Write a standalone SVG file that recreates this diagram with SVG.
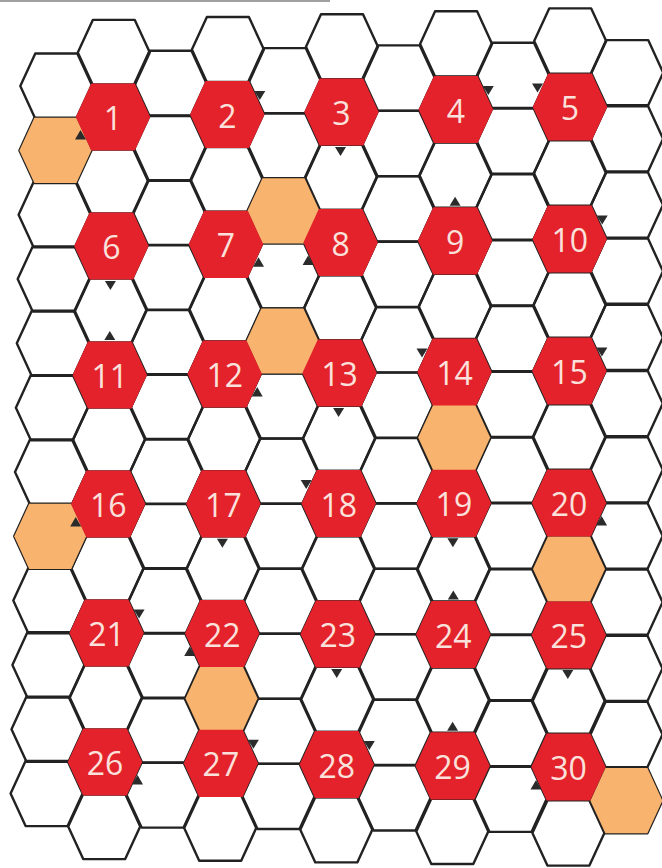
<svg xmlns="http://www.w3.org/2000/svg" width="662" height="868" viewBox="0 0 662 868">
<style>
.cell{fill:none;stroke:#222222;stroke-width:2.4;stroke-linejoin:round}
.org{fill:#f8b36e}
.red{fill:#e3222b}
.lbl{font-family:"Open Sans","Noto Sans",sans-serif;font-size:32px;fill:#fbe1db;text-anchor:middle}
.mk{fill:#2b2b2b}
</style>
<defs>
<polygon id="h" points="-21,-32.6 21,-32.6 36,0 21,32.6 -21,32.6 -36,0"/>
<polygon id="hr" points="-21.8,-33.6 21.8,-33.6 37.2,0 21.8,33.6 -21.8,33.6 -37.2,0"/>
<polygon id="tT" points="-5.5,-35 5.5,-35 0,-44"/>
<polygon id="tB" points="-6.5,35 4.5,35 -1,44"/>
<polygon id="tUR" points="27,-23.5 38,-23.5 32.5,-14.5"/>
<polygon id="tUL" points="-38,-23.5 -27,-23.5 -32.5,-14.5"/>
<polygon id="tLR" points="27,22.5 38,22.5 32.5,13"/>
<polygon id="tLL" points="-38,22.5 -27,22.5 -32.5,13"/>
</defs>
<rect x="0" y="0" width="662" height="868" fill="#ffffff"/>
<rect x="0" y="0" width="330" height="2" fill="#a0a0a0"/>
<g id="grid" class="cell">
<use href="#h" x="56.3" y="86.1"/><use href="#h" x="55.4" y="150.4"/><use href="#h" x="54.6" y="214.7"/><use href="#h" x="53.7" y="279"/><use href="#h" x="52.8" y="343.3"/><use href="#h" x="51.9" y="407.7"/><use href="#h" x="51" y="472"/><use href="#h" x="50.2" y="536.3"/><use href="#h" x="49.3" y="600.6"/><use href="#h" x="48.4" y="664.9"/><use href="#h" x="47.5" y="729.2"/><use href="#h" x="46.6" y="793.5"/>
<use href="#h" x="113.8" y="52.5"/><use href="#h" x="113" y="117"/><use href="#h" x="112.2" y="181.5"/><use href="#h" x="111.4" y="246"/><use href="#h" x="110.6" y="310.5"/><use href="#h" x="109.8" y="375"/><use href="#h" x="109" y="439.5"/><use href="#h" x="108.2" y="504"/><use href="#h" x="107.4" y="568.5"/><use href="#h" x="106.6" y="633"/><use href="#h" x="105.8" y="697.5"/><use href="#h" x="105" y="762"/><use href="#h" x="104.2" y="826.5"/>
<use href="#h" x="170.5" y="83.4"/><use href="#h" x="169.8" y="148.1"/><use href="#h" x="169.1" y="212.8"/><use href="#h" x="168.3" y="277.5"/><use href="#h" x="167.6" y="342.2"/><use href="#h" x="166.9" y="406.9"/><use href="#h" x="166.2" y="471.5"/><use href="#h" x="165.5" y="536.2"/><use href="#h" x="164.7" y="600.9"/><use href="#h" x="164" y="665.6"/><use href="#h" x="163.3" y="730.3"/><use href="#h" x="162.6" y="795"/>
<use href="#h" x="227.9" y="49.6"/><use href="#h" x="227.3" y="114.5"/><use href="#h" x="226.6" y="179.4"/><use href="#h" x="226" y="244.3"/><use href="#h" x="225.3" y="309.1"/><use href="#h" x="224.7" y="374"/><use href="#h" x="224.1" y="438.9"/><use href="#h" x="223.4" y="503.8"/><use href="#h" x="222.8" y="568.6"/><use href="#h" x="222.2" y="633.5"/><use href="#h" x="221.5" y="698.4"/><use href="#h" x="220.9" y="763.3"/><use href="#h" x="220.2" y="828.1"/>
<use href="#h" x="284.7" y="80.7"/><use href="#h" x="284.1" y="145.8"/><use href="#h" x="283.5" y="210.8"/><use href="#h" x="283" y="275.9"/><use href="#h" x="282.4" y="341"/><use href="#h" x="281.9" y="406"/><use href="#h" x="281.3" y="471.1"/><use href="#h" x="280.8" y="536.2"/><use href="#h" x="280.2" y="601.2"/><use href="#h" x="279.7" y="666.3"/><use href="#h" x="279.1" y="731.3"/><use href="#h" x="278.5" y="796.4"/>
<use href="#h" x="342" y="46.8"/><use href="#h" x="341.5" y="112"/><use href="#h" x="341" y="177.3"/><use href="#h" x="340.6" y="242.5"/><use href="#h" x="340.1" y="307.8"/><use href="#h" x="339.6" y="373"/><use href="#h" x="339.1" y="438.3"/><use href="#h" x="338.7" y="503.5"/><use href="#h" x="338.2" y="568.8"/><use href="#h" x="337.7" y="634"/><use href="#h" x="337.2" y="699.3"/><use href="#h" x="336.8" y="764.5"/><use href="#h" x="336.3" y="829.8"/>
<use href="#h" x="398.8" y="78"/><use href="#h" x="398.4" y="143.5"/><use href="#h" x="398" y="208.9"/><use href="#h" x="397.6" y="274.3"/><use href="#h" x="397.3" y="339.8"/><use href="#h" x="396.9" y="405.2"/><use href="#h" x="396.5" y="470.7"/><use href="#h" x="396.1" y="536.1"/><use href="#h" x="395.7" y="601.5"/><use href="#h" x="395.3" y="667"/><use href="#h" x="394.9" y="732.4"/><use href="#h" x="394.5" y="797.9"/>
<use href="#h" x="456.1" y="43.9"/><use href="#h" x="455.8" y="109.5"/><use href="#h" x="455.4" y="175.1"/><use href="#h" x="455.1" y="240.8"/><use href="#h" x="454.8" y="306.4"/><use href="#h" x="454.5" y="372"/><use href="#h" x="454.2" y="437.6"/><use href="#h" x="453.9" y="503.3"/><use href="#h" x="453.6" y="568.9"/><use href="#h" x="453.3" y="634.5"/><use href="#h" x="452.9" y="700.1"/><use href="#h" x="452.6" y="765.8"/><use href="#h" x="452.3" y="831.4"/>
<use href="#h" x="513" y="75.3"/><use href="#h" x="512.8" y="141.2"/><use href="#h" x="512.5" y="207"/><use href="#h" x="512.3" y="272.8"/><use href="#h" x="512.1" y="338.6"/><use href="#h" x="511.8" y="404.4"/><use href="#h" x="511.6" y="470.2"/><use href="#h" x="511.4" y="536"/><use href="#h" x="511.1" y="601.8"/><use href="#h" x="510.9" y="667.7"/><use href="#h" x="510.7" y="733.5"/><use href="#h" x="510.5" y="799.3"/>
<use href="#h" x="570.2" y="41"/><use href="#h" x="570" y="107"/><use href="#h" x="569.9" y="173"/><use href="#h" x="569.7" y="239"/><use href="#h" x="569.6" y="305"/><use href="#h" x="569.4" y="371"/><use href="#h" x="569.3" y="437"/><use href="#h" x="569.1" y="503"/><use href="#h" x="569" y="569"/><use href="#h" x="568.8" y="635"/><use href="#h" x="568.7" y="701"/><use href="#h" x="568.5" y="767"/><use href="#h" x="568.4" y="833"/>
<use href="#h" x="627.2" y="72.7"/><use href="#h" x="627.1" y="138.8"/><use href="#h" x="627" y="205"/><use href="#h" x="627" y="271.2"/><use href="#h" x="626.9" y="337.4"/><use href="#h" x="626.8" y="403.6"/><use href="#h" x="626.8" y="469.8"/><use href="#h" x="626.7" y="536"/><use href="#h" x="626.6" y="602.2"/><use href="#h" x="626.5" y="668.4"/><use href="#h" x="626.5" y="734.5"/><use href="#h" x="626.4" y="800.7"/>
</g>
<g id="orange" class="org">
<use href="#h" x="55.4" y="150.4"/>
<use href="#h" x="283.5" y="210.8"/>
<use href="#h" x="282.4" y="341"/>
<use href="#h" x="454.2" y="437.6"/>
<use href="#h" x="50.2" y="536.3"/>
<use href="#h" x="569" y="569"/>
<use href="#h" x="221.5" y="698.4"/>
<use href="#h" x="626.4" y="800.7"/>
</g>
<g id="nodes">
<g id="n1" transform="translate(113,117)"><use href="#hr" class="red"/><text class="lbl" y="13">1</text><use href="#tLL" class="mk"/></g>
<g id="n2" transform="translate(227.3,114.5)"><use href="#hr" class="red"/><text class="lbl" y="13">2</text><use href="#tUR" class="mk"/></g>
<g id="n3" transform="translate(341.5,112)"><use href="#hr" class="red"/><text class="lbl" y="13">3</text><use href="#tB" class="mk"/></g>
<g id="n4" transform="translate(455.8,109.5)"><use href="#hr" class="red"/><text class="lbl" y="13">4</text><use href="#tUR" class="mk"/></g>
<g id="n5" transform="translate(570,107)"><use href="#hr" class="red"/><text class="lbl" y="13">5</text><use href="#tUL" class="mk"/></g>
<g id="n6" transform="translate(111.4,246)"><use href="#hr" class="red"/><text class="lbl" y="13">6</text><use href="#tB" class="mk"/></g>
<g id="n7" transform="translate(226,244.3)"><use href="#hr" class="red"/><text class="lbl" y="13">7</text><use href="#tLR" class="mk"/></g>
<g id="n8" transform="translate(340.6,242.5)"><use href="#hr" class="red"/><text class="lbl" y="13">8</text><use href="#tLL" class="mk"/></g>
<g id="n9" transform="translate(455.1,240.8)"><use href="#hr" class="red"/><text class="lbl" y="13">9</text><use href="#tT" class="mk"/></g>
<g id="n10" transform="translate(569.7,239)"><use href="#hr" class="red"/><text class="lbl" y="13">10</text><use href="#tUR" class="mk"/></g>
<g id="n11" transform="translate(109.8,375)"><use href="#hr" class="red"/><text class="lbl" y="13">11</text><use href="#tT" class="mk"/></g>
<g id="n12" transform="translate(224.7,374)"><use href="#hr" class="red"/><text class="lbl" y="13">12</text><use href="#tLR" class="mk"/></g>
<g id="n13" transform="translate(339.6,373)"><use href="#hr" class="red"/><text class="lbl" y="13">13</text><use href="#tB" class="mk"/></g>
<g id="n14" transform="translate(454.5,372)"><use href="#hr" class="red"/><text class="lbl" y="13">14</text><use href="#tUL" class="mk"/></g>
<g id="n15" transform="translate(569.4,371)"><use href="#hr" class="red"/><text class="lbl" y="13">15</text><use href="#tUR" class="mk"/></g>
<g id="n16" transform="translate(108.2,504)"><use href="#hr" class="red"/><text class="lbl" y="13">16</text><use href="#tLL" class="mk"/></g>
<g id="n17" transform="translate(223.4,503.8)"><use href="#hr" class="red"/><text class="lbl" y="13">17</text><use href="#tB" class="mk"/></g>
<g id="n18" transform="translate(338.7,503.5)"><use href="#hr" class="red"/><text class="lbl" y="13">18</text><use href="#tUL" class="mk"/></g>
<g id="n19" transform="translate(453.9,503.3)"><use href="#hr" class="red"/><text class="lbl" y="13">19</text><use href="#tB" class="mk"/></g>
<g id="n20" transform="translate(569.1,503)"><use href="#hr" class="red"/><text class="lbl" y="13">20</text><use href="#tLR" class="mk"/></g>
<g id="n21" transform="translate(106.6,633)"><use href="#hr" class="red"/><text class="lbl" y="13">21</text><use href="#tUR" class="mk"/></g>
<g id="n22" transform="translate(222.2,633.5)"><use href="#hr" class="red"/><text class="lbl" y="13">22</text><use href="#tLL" class="mk"/></g>
<g id="n23" transform="translate(337.7,634)"><use href="#hr" class="red"/><text class="lbl" y="13">23</text><use href="#tB" class="mk"/></g>
<g id="n24" transform="translate(453.3,634.5)"><use href="#hr" class="red"/><text class="lbl" y="13">24</text><use href="#tT" class="mk"/></g>
<g id="n25" transform="translate(568.8,635)"><use href="#hr" class="red"/><text class="lbl" y="13">25</text><use href="#tB" class="mk"/></g>
<g id="n26" transform="translate(105,762)"><use href="#hr" class="red"/><text class="lbl" y="13">26</text><use href="#tLR" class="mk"/></g>
<g id="n27" transform="translate(220.9,763.3)"><use href="#hr" class="red"/><text class="lbl" y="13">27</text><use href="#tUR" class="mk"/></g>
<g id="n28" transform="translate(336.8,764.5)"><use href="#hr" class="red"/><text class="lbl" y="13">28</text><use href="#tUR" class="mk"/></g>
<g id="n29" transform="translate(452.6,765.8)"><use href="#hr" class="red"/><text class="lbl" y="13">29</text><use href="#tT" class="mk"/></g>
<g id="n30" transform="translate(568.5,767)"><use href="#hr" class="red"/><text class="lbl" y="13">30</text><use href="#tLL" class="mk"/></g>
</g>
</svg>
